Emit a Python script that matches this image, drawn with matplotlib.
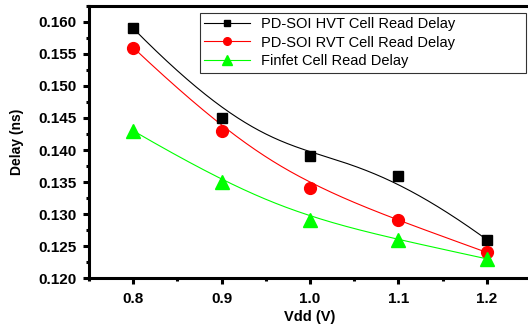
import numpy as np
import matplotlib
matplotlib.use('Agg')
import matplotlib.pyplot as plt
from matplotlib.lines import Line2D
from matplotlib.ticker import MultipleLocator

plt.rcParams['font.family'] = ['Liberation Sans', 'DejaVu Sans']

vdd = [0.8, 0.9, 1.0, 1.1, 1.2]
hvt = [0.159, 0.145, 0.139, 0.136, 0.126]
rvt = [0.156, 0.143, 0.134, 0.129, 0.124]
finfet = [0.143, 0.135, 0.129, 0.126, 0.123]
labels = ['PD-SOI HVT Cell Read Delay', 'PD-SOI RVT Cell Read Delay', 'Finfet Cell Read Delay']


def bspline(x, y, n=400):
    # clamped cubic B-spline with the data points as control points
    P = np.column_stack([x, y])
    k = 3
    nc = len(P)
    knots = np.concatenate([[0] * k, np.arange(nc - k + 1), [nc - k] * k]).astype(float)
    ts = np.linspace(0, nc - k, n)
    ts[-1] -= 1e-9

    def basis(i, p, t):
        if p == 0:
            return 1.0 if knots[i] <= t < knots[i + 1] else 0.0
        a = 0.0
        if knots[i + p] != knots[i]:
            a = (t - knots[i]) / (knots[i + p] - knots[i]) * basis(i, p - 1, t)
        b = 0.0
        if knots[i + p + 1] != knots[i + 1]:
            b = (knots[i + p + 1] - t) / (knots[i + p + 1] - knots[i + 1]) * basis(i + 1, p - 1, t)
        return a + b

    pts = np.array([sum(basis(i, k, t) * P[i] for i in range(nc)) for t in ts])
    return pts[:, 0], pts[:, 1]


fig = plt.figure(figsize=(5.28, 3.31), dpi=100)
ax = fig.add_axes([0.1686, 0.160, 0.8371, 0.822])

series = [(hvt, 'black', 's', 7.5, 5), (rvt, 'red', 'o', 8.5, 5.5), (finfet, '#00ff00', '^', 9.5, 7)]
handles = []
for (vals, col, mk, ms, lms), lab in zip(series, labels):
    xs, ys = bspline(vdd, vals)
    ax.plot(xs, ys, color=col, lw=0.8, zorder=2)
    ax.plot(vdd, vals, linestyle='none', marker=mk, color=col, markersize=ms, zorder=3)
    handles.append(Line2D([], [], color=col, lw=0.8, marker=mk, markersize=lms, label=lab))

ax.set_xlim(0.75, 1.25)
ax.set_ylim(0.12, 0.1625)
ax.xaxis.set_major_locator(MultipleLocator(0.1))
ax.xaxis.set_minor_locator(MultipleLocator(0.05))
ax.yaxis.set_major_locator(MultipleLocator(0.005))
ax.yaxis.set_minor_locator(MultipleLocator(0.0025))
ax.xaxis.set_major_formatter(plt.FormatStrFormatter('%.1f'))
ax.yaxis.set_major_formatter(plt.FormatStrFormatter('%.3f'))

for s in ax.spines.values():
    s.set_linewidth(2.2)
ax.tick_params(which='major', direction='out', length=4, width=2.2, labelsize=11)
ax.tick_params(which='minor', direction='out', length=2.5, width=2.2)
ax.tick_params(axis='y', pad=5)
ax.tick_params(axis='x', pad=6)
for t in ax.get_xticklabels() + ax.get_yticklabels():
    t.set_fontweight('bold')

ax.set_xlabel('Vdd (V)', fontsize=10.5, fontweight='bold', labelpad=3)
ax.set_ylabel('Delay (ns)', fontsize=10, fontweight='bold', labelpad=10)

leg = ax.legend(handles=handles, loc='upper left', bbox_to_anchor=(0.251, 0.5, 0.738, 0.474),
                mode='expand', fontsize=10.5, frameon=True, fancybox=False, numpoints=1,
                handlelength=3.1, borderpad=0.3, labelspacing=0.3, borderaxespad=0,
                handletextpad=0.8, handleheight=0.9)
leg.get_frame().set_edgecolor('black')
leg.get_frame().set_linewidth(0.8)

fig.savefig('out.png', dpi=100)
